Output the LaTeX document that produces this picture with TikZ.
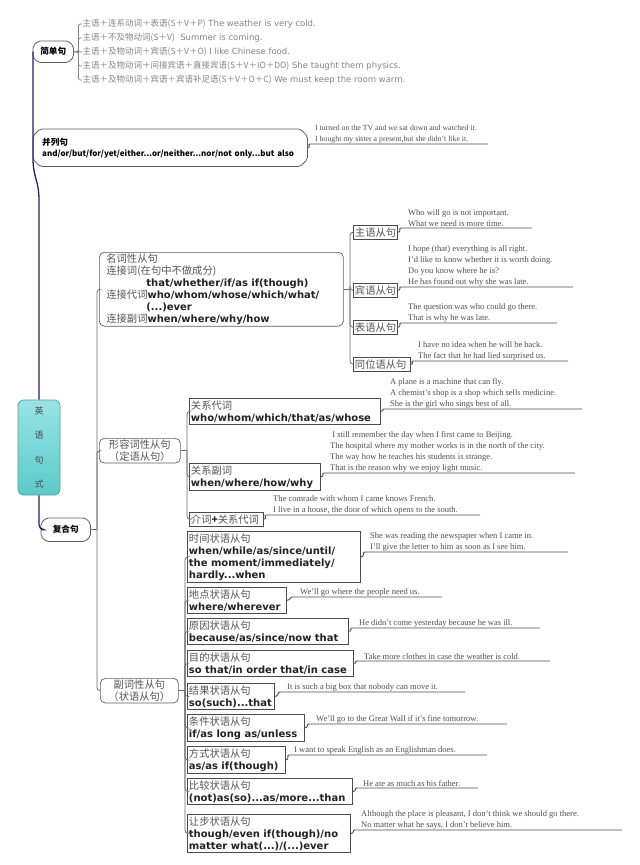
\documentclass[tikz,border=0pt]{standalone}
\usepackage{fontspec}
\setmainfont{Liberation Serif}
\newfontfamily\cjk{Noto Sans CJK SC}
\newfontfamily\dvs{DejaVu Sans}
\usetikzlibrary{calc}
\definecolor{navy}{HTML}{232363}
\definecolor{boxgray}{HTML}{5E5E5E}
\definecolor{subgray}{HTML}{4A4A4A}
\definecolor{busgray}{HTML}{6A6A6A}
\definecolor{ulgray}{HTML}{4E4E4E}
\definecolor{extext}{HTML}{505050}
\definecolor{zhgray}{HTML}{555555}
\definecolor{enblack}{HTML}{222222}
\definecolor{simgray}{HTML}{858585}
\definecolor{roottop}{HTML}{98E4E4}
\definecolor{rootbot}{HTML}{5CCACA}
\definecolor{rootborder}{HTML}{5A9C9E}
\newcommand\zh[1]{{\cjk\color{zhgray}#1}}
\newcommand\zs[1]{{\cjk #1}}
\newcommand\enb[1]{{\dvs\bfseries\color{enblack}\fontsize{10}{12}\selectfont #1}}
\newcommand\chamf[2]{%
  \draw[lvlline] ($(#1.north west)+(#2,0)$) -- ($(#1.north east)+(-#2,0)$) -- ($(#1.north east)+(0,#2)$) -- ($(#1.south east)+(0,-#2)$) -- ($(#1.south east)+(-#2,0)$) -- ($(#1.south west)+(#2,0)$) -- ($(#1.south west)+(0,-#2)$) -- ($(#1.north west)+(0,#2)$) -- cycle;}
\newcommand\exl[7]{%
  \coordinate (#1a) at (#3,#4);
  \coordinate (#1b) at (#5,#4);
  \node[extx] (#1t) at (#6,#4-0.8) {#7};
  \draw[ul] (#2.east) .. controls +(4,0) and +(-3,0) .. (#1a) -- (#1b);}
\tikzset{
  lvlone/.style={anchor=north west, inner sep=1pt, text=black, font=\cjk\bfseries\fontsize{8.6}{11}\selectfont},
  lvlline/.style={draw=boxgray, line width=0.8pt, rounded corners=2pt},
  lvltwo/.style={draw=boxgray, line width=0.7pt, rounded corners=5pt, anchor=north west, align=left, inner ysep=1.5pt, font=\fontsize{10.3}{12}\selectfont},
  sub/.style={draw=subgray, line width=0.9pt, anchor=north west, align=left, inner xsep=1.5pt, inner ysep=2pt, font=\fontsize{10.3}{12}\selectfont},
  extx/.style={anchor=south west, inner sep=0pt, align=left, text=extext, font=\fontsize{8.5}{11}\selectfont},
  ul/.style={draw=ulgray, line width=0.9pt},
  bus/.style={draw=busgray, line width=0.8pt, rounded corners=3pt},
  trunk/.style={draw=navy, line width=1.3pt},
  brk/.style={draw=simgray, line width=0.7pt, rounded corners=2pt},
  simple/.style={anchor=west, inner sep=0.5pt, text=simgray, font=\dvs\fontsize{8.5}{10}\selectfont},
  rootbox/.style={draw=rootborder, line width=0.7pt, rounded corners=5pt, top color=roottop, bottom color=rootbot, minimum width=42pt, minimum height=95pt, align=center, inner sep=0pt, text=black!70, font=\cjk\fontsize{9}{24.5}\selectfont}
}
\begin{document}
\begin{tikzpicture}[x=1pt,y=-1pt]
\useasboundingbox[fill=white] (0,0) rectangle (640,865);

% ---------- level one ----------
\node[rootbox] (root) at (39,447.5) {英\\语\\句\\式};
\node[lvlone, minimum width=40pt, minimum height=21pt] (jian) at (33,41) {简单句};
\node[lvlone, minimum height=37pt, text width=256pt, inner xsep=9pt, align=left] (bing) at (33,129)
  {并列句\\\mbox{\fontsize{8}{11}\selectfont and/or/but/for/yet/either...or/neither...nor/not only...but also}};
\node[lvlone, minimum width=49pt, minimum height=23pt] (fu) at (41,518) {复合句};
\chamf{jian}{5}
\chamf{bing}{7}
\chamf{fu}{5}

\draw[trunk] (root.north) -- (39,200) .. controls (39,180) and (33,178) .. (33,158) -- (jian.west);
\draw[trunk, rounded corners=5pt] (root.south) |- (fu.west);

% ---------- simple sentences ----------
\node[simple] (s1) at (82,24) {\zs{主语＋连系动词＋表语(S＋V＋P)} The weather is very cold.};
\node[simple] (s2) at (82,38) {\zs{主语＋不及物动词(S＋V)}\ \ Summer is coming.};
\node[simple] (s3) at (82,52) {\zs{主语＋及物动词＋宾语(S＋V＋O)} I like Chinese food.};
\node[simple] (s4) at (82,66) {\zs{主语＋及物动词＋间接宾语＋直接宾语(S＋V＋IO＋DO)} She taught them physics.};
\node[simple] (s5) at (82,80) {\zs{主语＋及物动词＋宾语＋宾语补足语(S＋V＋O＋C)} We must keep the room warm.};
\foreach \s in {s1,s2,s3,s4,s5} \draw[brk] (jian.east) -- ++(5,0) |- (\s.west);

% ---------- coordinate sentences examples ----------
\coordinate (bga) at (310,144);
\coordinate (bgb) at (488,144);
\node[extx, font=\fontsize{7.8}{10.5}\selectfont] (bgt) at (315,143.2)
  {I turned on the TV and we sat down and watched it.\\I bought my sister a present,but she didn't like it.};
\draw[ul] (bing.east) .. controls +(4,0) and +(-3,0) .. (bga) -- (bgb);

% ---------- level two ----------
\node[lvltwo, text width=230pt, inner xsep=7pt] (nounbox) at (99,252) {%
\zh{名词性从句}\\
\zh{连接词(在句中不做成分)}\\
\hspace*{40pt}\enb{that/whether/if/as if(though)}\\
\zh{连接代词}\enb{who/whom/whose/which/what/}\\
\hspace*{40pt}\enb{(...)ever}\\
\zh{连接副词}\enb{when/where/why/how}};
\node[lvltwo, text width=69pt, inner xsep=6pt, align=center] (adjbox) at (99,438) {\zh{形容词性从句}\\\zh{（定语从句）}};
\node[lvltwo, text width=66pt, inner xsep=6pt, align=center] (advbox) at (100,678) {\zh{副词性从句}\\\zh{（状语从句）}};

\coordinate (cbus) at (97,0);
\draw[bus] (fu.east) -- (fu.east -| cbus);
\foreach \b in {nounbox,adjbox,advbox} \draw[bus] (fu.east -| cbus) |- (\b.west);

% ---------- noun clauses ----------
\node[sub, text width=41pt] (zhuyu) at (353,225) {\zh{主语从句}};
\node[sub, text width=41pt] (binyu) at (353,283) {\zh{宾语从句}};
\node[sub, text width=41pt] (biaoyu) at (353,320) {\zh{表语从句}};
\node[sub, text width=54pt] (tongwei) at (353,357) {\zh{同位语从句}};
\coordinate (nbus) at (350,0);
\draw[bus] (nounbox.east) -- (nounbox.east -| nbus);
\foreach \b in {zhuyu,binyu,biaoyu,tongwei} \draw[bus] (nounbox.east -| nbus) |- (\b.west);

\exl{e1}{zhuyu}{401}{228}{532}{408}{Who will go is not important.\\What we need is more time.}
\exl{e2}{binyu}{401}{287}{573}{408}{I hope (that) everything is all right.\\I'd like to know whether it is worth doing.\\Do you know where he is?\\He has found out why she was late.}
\exl{e3}{biaoyu}{401}{323}{557}{408}{The question was who could go there.\\That is why he was late.}
\exl{e4}{tongwei}{413}{361}{568}{418}{I have no idea when he will be back.\\The fact that he had lied surprised us.}

% ---------- adjective clauses ----------
\node[sub, text width=188pt] (guanxidai) at (189,398) {\zh{关系代词}\\\enb{who/whom/which/that/as/whose}};
\node[sub, text width=128pt] (guanxifu) at (189,463) {\zh{关系副词}\\\enb{when/where/how/why}};
\node[sub, text width=71pt] (jieci) at (189,512) {\zh{介词}{\cjk\bfseries\color{enblack}+}\zh{关系代词}};
\coordinate (abus) at (187,0);
\draw[bus] (adjbox.east) -- (adjbox.east -| abus);
\foreach \b in {guanxidai,guanxifu,jieci} \draw[bus] (adjbox.east -| abus) |- (\b.west);

\exl{e5}{guanxidai}{384}{409}{582}{390}{A plane is a machine that can fly.\\A chemist's shop is a shop which sells medicine.\\She is the girl who sings best of all.}
\exl{e6}{guanxifu}{324}{473}{575}{330}{\ I still remember the day when I first came to Beijing.\\The hospital where my mother works is in the north of the city.\\The way how he teaches his students is strange.\\That is the reason why we enjoy light music.}
\exl{e7}{jieci}{266}{515}{480}{273}{The comrade with whom I came knows French.\\I live in a house, the door of which opens to the south.}

% ---------- adverbial clauses ----------
\node[sub, text width=170pt] (shijian) at (187,531) {\zh{时间状语从句}\\\enb{when/while/as/since/until/}\\\enb{the moment/immediately/}\\\enb{hardly...when}};
\node[sub, text width=96pt] (didian) at (187,587) {\zh{地点状语从句}\\\enb{where/wherever}};
\node[sub, text width=158pt] (yuanyin) at (187,618) {\zh{原因状语从句}\\\enb{because/as/since/now that}};
\node[sub, text width=163pt] (mudi) at (187,650) {\zh{目的状语从句}\\\enb{so that/in order that/in case}};
\node[sub, text width=84pt] (jieguo) at (187,683) {\zh{结果状语从句}\\\enb{so(such)...that}};
\node[sub, text width=114pt] (tiaojian) at (187,714) {\zh{条件状语从句}\\\enb{if/as long as/unless}};
\node[sub, text width=95pt] (fangshi) at (187,746) {\zh{方式状语从句}\\\enb{as/as if(though)}};
\node[sub, text width=162pt] (bijiao) at (187,778) {\zh{比较状语从句}\\\enb{(not)as(so)...as/more...than}};
\node[sub, text width=160pt] (rangbu) at (187,814) {\zh{让步状语从句}\\\enb{though/even if(though)/no}\\\enb{matter what(...)/(...)ever}};
\coordinate (vbus) at (185,0);
\draw[bus] (advbox.east) -- (advbox.east -| vbus);
\foreach \b in {shijian,didian,yuanyin,mudi,jieguo,tiaojian,fangshi,bijiao,rangbu} \draw[bus] (advbox.east -| vbus) |- (\b.west);

\exl{e8}{shijian}{365}{552}{568}{370}{She was reading the newspaper when I came in.\\I'll give the letter to him as soon as I see him.}
\exl{e9}{didian}{292}{597}{442}{300}{We'll go where the people need us.}
\exl{e10}{yuanyin}{352}{628}{540}{359}{He didn't come yesterday because he was ill.}
\exl{e11}{mudi}{357}{661}{550}{364}{Take more clothes in case the weather is cold.}
\exl{e12}{jieguo}{280}{692}{465}{287}{It is such a big box that nobody can move it.}
\exl{e13}{tiaojian}{309}{724}{507}{316}{We'll go to the Great Wall if it's fine tomorrow.}
\exl{e14}{fangshi}{289}{755}{487}{294}{I want to speak English as an Englishman does.}
\exl{e15}{bijiao}{357}{788}{478}{363}{He ate as much as his father.}
\exl{e16}{rangbu}{355}{830}{622}{361}{Although the place is pleasant, I don't think we should go there.\\No matter what he says, I don't believe him.}
\end{tikzpicture}
\end{document}
